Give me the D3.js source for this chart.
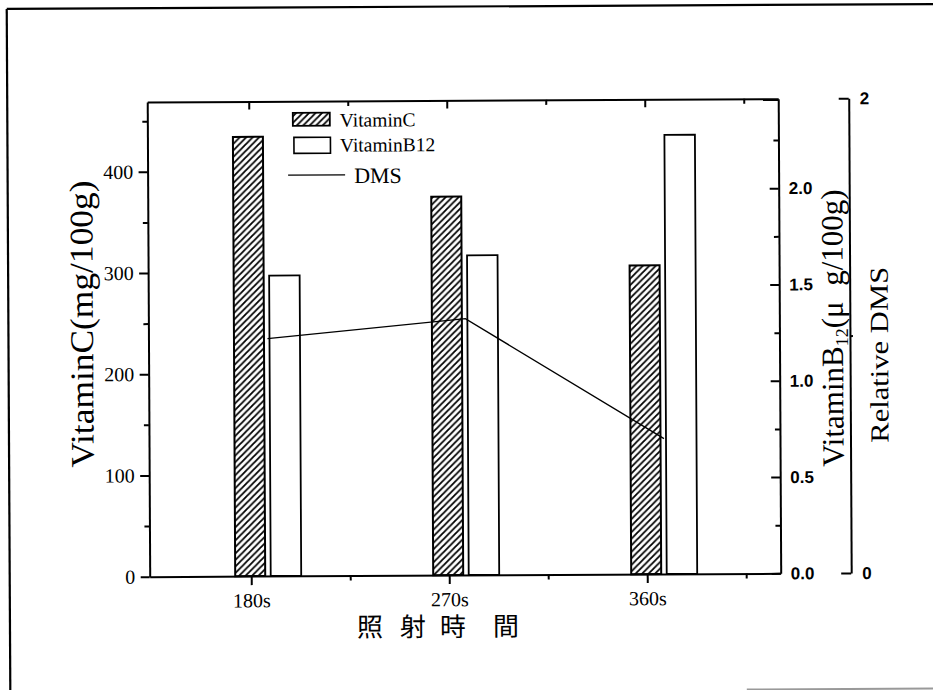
<!DOCTYPE html>
<html>
<head>
<meta charset="utf-8">
<script src="https://cdn.jsdelivr.net/npm/d3@7"></script>
<style>
  html, body { margin: 0; padding: 0; background: #fff; }
  svg { display: block; }
</style>
</head>
<body>
<svg id="chart" width="933" height="690"></svg>
<script>
// Irradiation time (s) and measured values
const categories = [180, 270, 360];
const tickLabels = ["180s", "270s", "360s"];
const vitaminC = [434, 374, 305];        // mg/100g, left axis
const vitaminB12 = [1.56, 1.66, 2.28];   // μg/100g, first right axis
const relativeDMS = [1.00, 1.08, 0.57];  // relative units, outer right axis

const vitCTicks = [0, 100, 200, 300, 400];
const vitCMinor = [50, 150, 250, 350, 450];
const b12Ticks = [0, 0.5, 1.0, 1.5, 2.0];
const b12Minor = [0.25, 0.75, 1.25, 1.75, 2.25];
const dmsTicks = [0, 2];
const dmsMinor = [1];
const xMinor = [225, 315, 405];
const legendLabels = ["VitaminC", "VitaminB12", "DMS"];
const xTitleChars = ["照", "射", "時", "間"];

const SERIF = "'Liberation Serif', 'Times New Roman', serif";
const SANS = "'Liberation Sans', Arial, sans-serif";
const CJK = "'Noto Sans CJK TC', 'Noto Sans CJK SC', sans-serif";

const svg = d3.select("#chart");
const defs = svg.append("defs");
const hatch = defs.append("pattern")
  .attr("id", "hatch").attr("patternUnits", "userSpaceOnUse")
  .attr("width", 6.5).attr("height", 6.5);
hatch.append("rect").attr("width", 6.5).attr("height", 6.5).attr("fill", "#fff");
hatch.append("path")
  .attr("d", "M-1,1 l2,-2 M0,6.5 l6.5,-6.5 M5.5,7.5 l2,-2")
  .attr("stroke", "#000").attr("stroke-width", 1.8);

// the whole sheet sits a touch askew
const root = svg.append("g").attr("transform", "rotate(-0.3 466 345)");

// page frame
root.append("line").attr("x1", 8.5).attr("y1", 6.5).attr("x2", 960).attr("y2", 6.5)
  .attr("stroke", "#000").attr("stroke-width", 2.2);
root.append("line").attr("x1", 8.5).attr("y1", 6.5).attr("x2", 8.5).attr("y2", 720)
  .attr("stroke", "#000").attr("stroke-width", 2.2);
root.append("line").attr("x1", 745).attr("y1", 691).attr("x2", 960).attr("y2", 691)
  .attr("stroke", "#999").attr("stroke-width", 2);

// plot box
const L = 148.5, R = 779.5, T = 100.3, B = 575, D = 850;

const x = d3.scaleLinear().domain([133.86, 420.68]).range([L, R]);
const yC = d3.scaleLinear().domain([0, 469]).range([B, T]);
const yB = d3.scaleLinear().domain([0, 2.465]).range([B, T]);
const yD = d3.scaleLinear().domain([0, 2]).range([B, T]);

const barW = 30;
const offC = -16, offB = 19.5, offLine = 17.5;

// Vitamin C bars (hatched)
root.append("g").selectAll("rect").data(vitaminC).join("rect")
  .attr("x", (d, i) => x(categories[i]) + offC)
  .attr("y", d => yC(d))
  .attr("width", barW)
  .attr("height", d => B - yC(d))
  .attr("fill", "url(#hatch)")
  .attr("stroke", "#000").attr("stroke-width", 2);

// Vitamin B12 bars (open)
root.append("g").selectAll("rect").data(vitaminB12).join("rect")
  .attr("x", (d, i) => x(categories[i]) + offB)
  .attr("y", d => yB(d))
  .attr("width", barW + 0.5)
  .attr("height", d => B - yB(d))
  .attr("fill", "#fff")
  .attr("stroke", "#000").attr("stroke-width", 1.8);

// DMS line
const line = d3.line()
  .x((d, i) => x(categories[i]) + offLine)
  .y(d => yD(d));
root.append("path").datum(relativeDMS)
  .attr("d", line)
  .attr("fill", "none").attr("stroke", "#000").attr("stroke-width", 1.3);

function styleAxis(g, font, size, weight) {
  g.select(".domain").attr("stroke", "#000").attr("stroke-width", 2);
  g.selectAll(".tick line").attr("stroke", "#000").attr("stroke-width", 2);
  g.selectAll(".tick text")
    .attr("fill", "#000")
    .style("font-family", font)
    .style("font-size", size + "px")
    .style("font-weight", weight || "normal");
  g.attr("font-family", null).attr("font-size", null);
}

// left axis: Vitamin C
const gl = root.append("g").attr("transform", `translate(${L},0)`)
  .call(d3.axisLeft(yC).tickValues(vitCTicks).tickFormat(d3.format("d"))
    .tickSize(9).tickSizeOuter(0).tickPadding(5.5));
styleAxis(gl, SERIF, 20);
const glm = root.append("g").attr("transform", `translate(${L},0)`)
  .call(d3.axisLeft(yC).tickValues(vitCMinor).tickFormat("").tickSize(5).tickSizeOuter(0));
styleAxis(glm, SERIF, 20);
glm.select(".domain").remove();

// bottom axis
const gb = root.append("g").attr("transform", `translate(0,${B})`)
  .call(d3.axisBottom(x).tickValues(categories).tickFormat((d, i) => tickLabels[i])
    .tickSize(9).tickSizeOuter(0).tickPadding(8));
styleAxis(gb, SERIF, 20);
const gbm = root.append("g").attr("transform", `translate(0,${B})`)
  .call(d3.axisBottom(x).tickValues(xMinor).tickFormat("").tickSize(5).tickSizeOuter(0));
styleAxis(gbm, SERIF, 20);
gbm.select(".domain").remove();

// top frame with inward ticks
const gt = root.append("g").attr("transform", `translate(0,${T})`)
  .call(d3.axisTop(x).tickValues(categories).tickFormat("").tickSize(-8).tickSizeOuter(0));
styleAxis(gt, SERIF, 20);
const gtm = root.append("g").attr("transform", `translate(0,${T})`)
  .call(d3.axisTop(x).tickValues(xMinor).tickFormat("").tickSize(-5).tickSizeOuter(0));
styleAxis(gtm, SERIF, 20);
gtm.select(".domain").remove();

// right axis: Vitamin B12
const gr = root.append("g").attr("transform", `translate(${R},0)`)
  .call(d3.axisRight(yB).tickValues(b12Ticks).tickFormat(d3.format(".1f"))
    .tickSize(-9).tickSizeOuter(0).tickPadding(10));
styleAxis(gr, SANS, 17, "bold");
const grm = root.append("g").attr("transform", `translate(${R},0)`)
  .call(d3.axisRight(yB).tickValues(b12Minor).tickFormat("").tickSize(-5).tickSizeOuter(0));
styleAxis(grm, SANS, 17);
grm.select(".domain").remove();

// outer right axis: relative DMS
const gd = root.append("g").attr("transform", `translate(${D},0)`)
  .call(d3.axisRight(yD).tickValues(dmsTicks).tickFormat(d3.format("d"))
    .tickSize(-10).tickSizeOuter(0).tickPadding(11));
styleAxis(gd, SANS, 17, "bold");
const gdm = root.append("g").attr("transform", `translate(${D},0)`)
  .call(d3.axisRight(yD).tickValues(dmsMinor).tickFormat("").tickSize(3).tickSizeOuter(0));
styleAxis(gdm, SANS, 17);
gdm.select(".domain").remove();

// axis titles
root.append("text")
  .attr("transform", "translate(93,322) rotate(-90)")
  .attr("text-anchor", "middle")
  .attr("textLength", 287).attr("lengthAdjust", "spacingAndGlyphs")
  .style("font-family", SERIF).style("font-size", "33px")
  .text("VitaminC(mg/100g)");

const tB = root.append("text")
  .attr("transform", "translate(843,330) rotate(-90)")
  .attr("text-anchor", "middle")
  .style("font-family", SERIF).style("font-size", "31px");
tB.append("tspan").text("VitaminB");
tB.append("tspan").attr("dy", 5).style("font-size", "18px").text("12");
tB.append("tspan").attr("dy", -5).style("white-space", "pre").text("(μ\u00a0\u00a0g/100g)");

root.append("text")
  .attr("transform", "translate(888,357) rotate(-90)")
  .attr("text-anchor", "middle")
  .attr("textLength", 176).attr("lengthAdjust", "spacingAndGlyphs")
  .style("font-family", SERIF).style("font-size", "26px")
  .text("Relative DMS");

// x title, one glyph per slot
const xTitleX = [368.5, 411.5, 451.5, 504.5];
const xt = root.append("text")
  .attr("y", 636)
  .attr("text-anchor", "middle")
  .style("font-family", CJK).style("font-size", "26px");
xTitleChars.forEach((c, i) => xt.append("tspan").attr("x", xTitleX[i]).text(c));

// legend
const lg = root.append("g");
lg.append("rect").attr("x", 294).attr("y", 112).attr("width", 37).attr("height", 13)
  .attr("fill", "url(#hatch)").attr("stroke", "#000").attr("stroke-width", 1.8);
lg.append("rect").attr("x", 295).attr("y", 136.5).attr("width", 36.5).attr("height", 16)
  .attr("fill", "#fff").attr("stroke", "#000").attr("stroke-width", 1.6);
lg.append("line").attr("x1", 289).attr("x2", 346).attr("y1", 174.2).attr("y2", 174.2)
  .attr("stroke", "#000").attr("stroke-width", 1.3);
lg.append("text").attr("x", 341).attr("y", 126)
  .style("font-family", SERIF).style("font-size", "19.5px").text(legendLabels[0]);
lg.append("text").attr("x", 341).attr("y", 151)
  .style("font-family", SERIF).style("font-size", "19.5px").text(legendLabels[1]);
lg.append("text").attr("x", 355).attr("y", 182.5)
  .style("font-family", SERIF).style("font-size", "22px").text(legendLabels[2]);
</script>
</body>
</html>
